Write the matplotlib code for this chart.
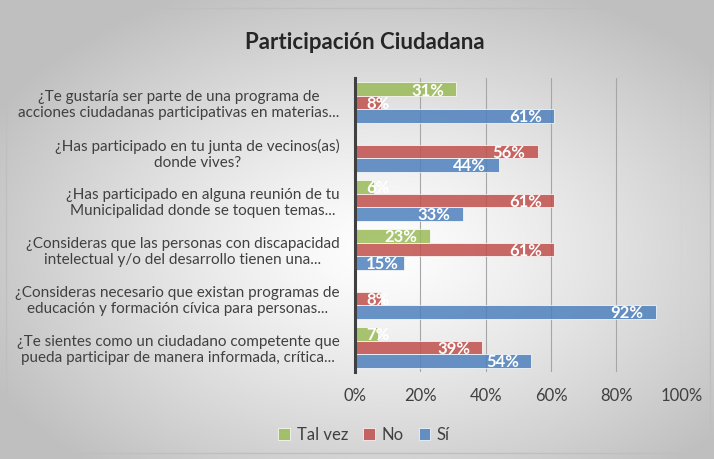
import numpy as np
import matplotlib
matplotlib.use("Agg")
import matplotlib.pyplot as plt
from matplotlib.patches import Rectangle

plt.rcParams['font.family'] = ['Lato', 'DejaVu Sans']

categories = [
    "¿Te gustaría ser parte de una programa de\nacciones ciudadanas participativas en materias...",
    "¿Has participado en tu junta de vecinos(as)\ndonde vives?",
    "¿Has participado en alguna reunión de tu\nMunicipalidad donde se toquen temas...",
    "¿Consideras que las personas con discapacidad\nintelectual y/o del desarrollo tienen una...",
    "¿Consideras necesario que existan programas de\neducación y formación cívica para personas...",
    "¿Te sientes como un ciudadano competente que\npueda participar de manera informada, crítica...",
]
tal_vez = [31, 0, 6, 23, 0, 7]
no = [8, 56, 61, 61, 8, 39]
si = [61, 44, 33, 15, 92, 54]
series_names = ["Tal vez", "No", "Sí"]
colors = ["#9bbb59", "#c0504d", "#4f81bd"]
xticks = [0, 20, 40, 60, 80, 100]

fig = plt.figure(figsize=(7.14, 4.59), dpi=100)

# radial gradient background
bg = fig.add_axes([0, 0, 1, 1], zorder=-10)
yy, xx = np.mgrid[0:459, 0:714]
cx, cy = 380, 250
r = np.sqrt(((xx - cx) / 714) ** 2 + ((yy - cy) / 459) ** 2)
r = np.clip(r / 0.62, 0, 1)
val = 1.0 - 0.25 * r ** 1.2
img = np.dstack([val, val, val])
bg.imshow(img, aspect='auto', extent=[0, 1, 0, 1], origin='upper')
bg.add_patch(Rectangle((0.008, 0.012), 0.986, 0.97, fill=False,
                       edgecolor='#bfbfbf', lw=1, transform=bg.transAxes))
bg.set_axis_off()

ax = fig.add_axes([0.497, 0.19, 0.458, 0.64])
ax.set_facecolor('none')
n = len(categories)
ypos = np.arange(n)[::-1]
h = 0.275
data = [tal_vez, no, si]
offsets = [h, 0, -h]
ax.set_xlim(0, 100)
ax.set_ylim(-0.5, n - 0.5)

renderer = fig.canvas.get_renderer()
min_left = 3.4
for vals, col, off, name in zip(data, colors, offsets, series_names):
    bars = ax.barh(ypos + off, vals, height=h, color=col, alpha=0.85,
                   edgecolor='white', linewidth=0.6, label=name, zorder=3)
    for b, v in zip(bars, vals):
        if v <= 0:
            continue
        yc = b.get_y() + b.get_height() / 2 - 0.03
        t = ax.text(v - 3.8, yc, f"{v}%", ha='right', va='center',
                    color='white', fontsize=12, fontweight='bold', zorder=4)
        bb = t.get_window_extent(renderer=renderer)
        left = ax.transData.inverted().transform((bb.x0, bb.y0))[0]
        if left < min_left:
            t.set_x(min_left)
            t.set_ha('left')
        t.set_clip_path(b)

ax.set_xticks(xticks)
ax.set_xticklabels([f"{x}%" for x in xticks], fontsize=12, color='#404040')
ax.set_yticks(ypos)
ax.set_yticklabels(categories, fontsize=11, color='#404040', ha='right',
                   multialignment='center')
ax.tick_params(axis='y', length=0, pad=11)
ax.tick_params(axis='x', length=0, pad=12)
ax.grid(axis='x', color='#a6a6a6', lw=0.8, zorder=0)
for s in ['top', 'right', 'bottom']:
    ax.spines[s].set_visible(False)
ax.spines['left'].set_color('#404040')
ax.spines['left'].set_linewidth(2.2)
ax.spines['left'].set_zorder(5)

fig.text(0.511, 0.908, "Participación Ciudadana", ha='center', va='center',
         fontsize=16, fontweight='bold', color='#262626')

handles, labels = ax.get_legend_handles_labels()
leg = fig.legend(handles, labels, loc='center', bbox_to_anchor=(0.51, 0.052),
                 ncol=3, frameon=False, fontsize=12, handlelength=0.7,
                 handleheight=0.7, columnspacing=0.9, handletextpad=0.4)
for t in leg.get_texts():
    t.set_color('#404040')

fig.savefig("out.png", dpi=100)
